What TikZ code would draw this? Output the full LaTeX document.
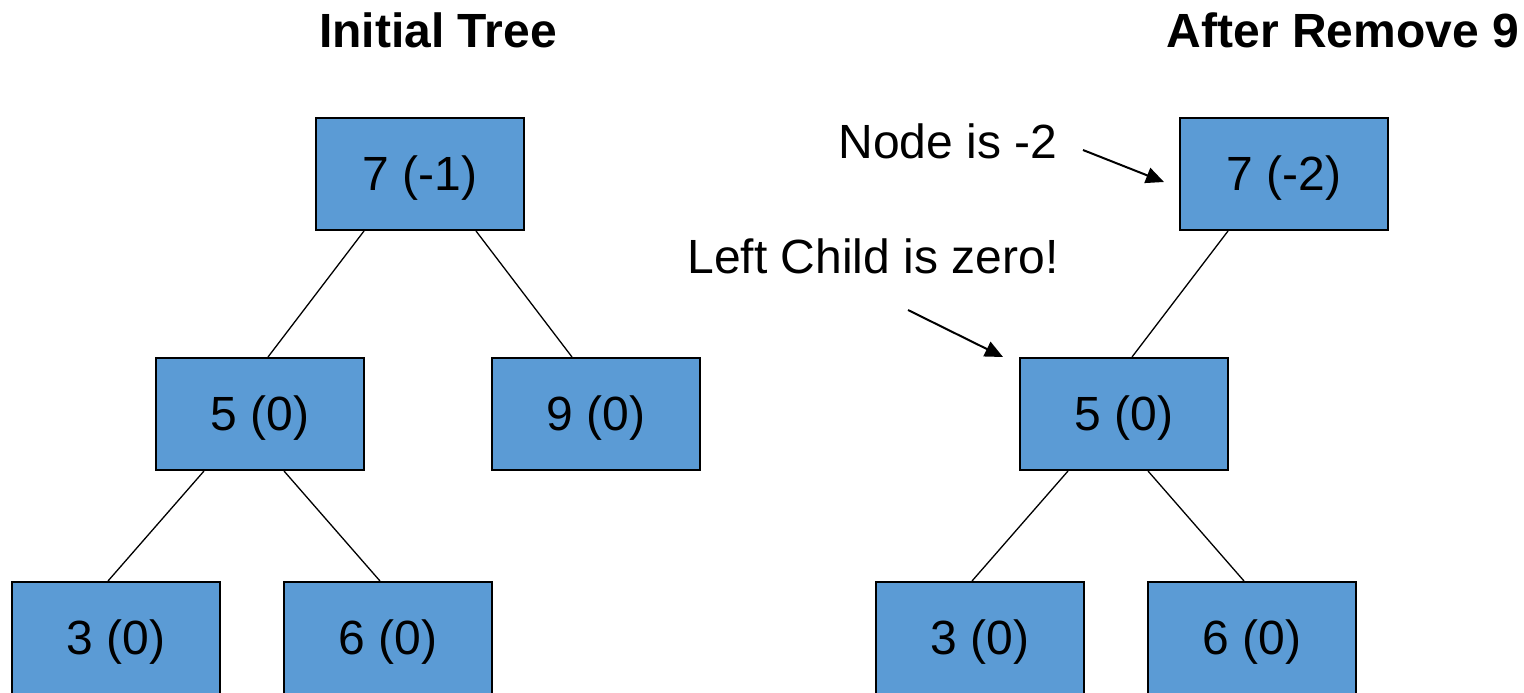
\documentclass[tikz,border=0pt]{standalone}
\usepackage{fontspec}
\setmainfont{Liberation Sans}
\usetikzlibrary{arrows.meta,calc}
\definecolor{boxblue}{RGB}{91,155,213}
\tikzset{
  treenode/.style={draw=black, line width=1pt, fill=boxblue, rectangle,
    minimum width=104pt, minimum height=56pt, inner sep=0pt,
    text height=16.2pt, text depth=0pt,
    font=\fontsize{24}{28}\selectfont},
  link/.style={line width=0.65pt},
  note/.style={font=\fontsize{24}{28}\selectfont, anchor=base, inner sep=0pt},
  heading/.style={font=\fontsize{24}{28}\selectfont\bfseries, anchor=base, inner sep=0pt},
  pointer/.style={line width=1pt, -{Triangle[length=9pt,width=8pt]}}
}
\begin{document}
\begin{tikzpicture}[x=0.5pt,y=-0.5pt]
  \useasboundingbox (0,0) rectangle (1524,692);

  % headings
  \node[heading] (t1) at (438,47) {Initial Tree};
  \node[heading] (t2) at (1343,47) {After Remove 9};

  % initial tree
  \node[treenode] (a7) at (420,174) {7 (-1)};
  \node[treenode] (a5) at (260,414) {5 (0)};
  \node[treenode] (a9) at (596,414) {9 (0)};
  \node[treenode] (a3) at (116,638) {3 (0)};
  \node[treenode] (a6) at (388,638) {6 (0)};

  \draw[link] ($(a7.south)+(-56,0)$) -- ($(a5.north)+(8,0)$);
  \draw[link] ($(a7.south)+(56,0)$) -- ($(a9.north)+(-24,0)$);
  \draw[link] ($(a5.south)+(-56,0)$) -- ($(a3.north)+(-8,0)$);
  \draw[link] ($(a5.south)+(24,0)$) -- ($(a6.north)+(-8,0)$);

  % tree after removing 9
  \node[treenode] (b7) at (1284,174) {7 (-2)};
  \node[treenode] (b5) at (1124,414) {5 (0)};
  \node[treenode] (b3) at (980,638) {3 (0)};
  \node[treenode] (b6) at (1252,638) {6 (0)};

  \draw[link] ($(b7.south)+(-56,0)$) -- ($(b5.north)+(8,0)$);
  \draw[link] ($(b5.south)+(-56,0)$) -- ($(b3.north)+(-8,0)$);
  \draw[link] ($(b5.south)+(24,0)$) -- ($(b6.north)+(-8,0)$);

  % annotations
  \node[note] (n1) at (948,158) {Node is -2};
  \node[note] (n2) at (873,273) {Left Child is zero!};
  \coordinate (p1s) at (1083,150);
  \coordinate (p1e) at (1164,182);
  \coordinate (p2s) at (908,310);
  \coordinate (p2e) at (1003,357);
  \draw[pointer] (p1s) -- (p1e);
  \draw[pointer] (p2s) -- (p2e);
\end{tikzpicture}
\end{document}
